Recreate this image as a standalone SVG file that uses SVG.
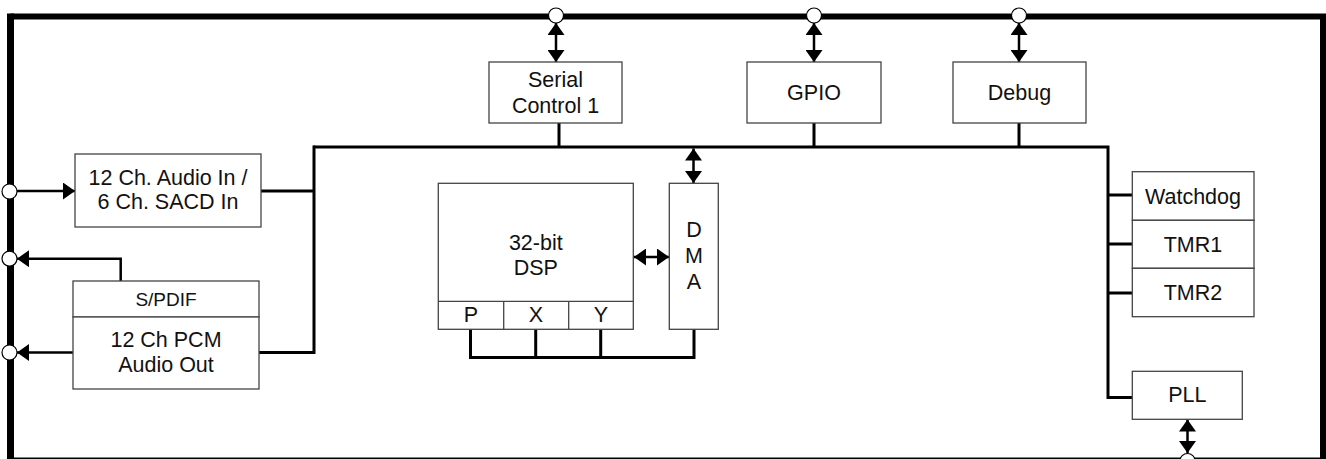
<svg xmlns="http://www.w3.org/2000/svg" width="1326" height="459" viewBox="0 0 1326 459">
<style>
.box{fill:#fff;stroke:#444;stroke-width:1.3}
.t{font-family:"Liberation Sans",Arial,sans-serif;font-size:21.5px;fill:#111;text-anchor:middle}
.ts{font-family:"Liberation Sans",Arial,sans-serif;font-size:19px;fill:#111;text-anchor:middle}
.bus{fill:none;stroke:#000;stroke-width:3}
.ar{fill:none;stroke:#000;stroke-width:2.5}
.pin{fill:#fff;stroke:#000;stroke-width:1.2}
</style>
<defs>
<marker id="ah" markerUnits="userSpaceOnUse" markerWidth="13" markerHeight="17" refX="12" refY="8.5" orient="auto-start-reverse">
<path d="M0,0 L12,8.5 L0,17 z" fill="#000"/>
</marker>
</defs>
<rect width="1326" height="459" fill="#fff"/>
<g id="frame">
<path d="M1323,459 V16.5 H10.5" fill="none" stroke="#000" stroke-width="6"/>
<path d="M10.5,13.5 V459" fill="none" stroke="#000" stroke-width="7"/>
<path d="M10,458.3 H1323" stroke="#000" stroke-width="1.5"/>
</g>
<g id="connectors">
<path class="bus" d="M313.5,147 H1108 V397.5 H1132"/>
<path class="bus" d="M314,145.5 V352.5 H259"/>
<path class="bus" d="M261,191 H314"/>
<path class="bus" d="M559,123 V147 M814,123 V147 M1019,123 V147"/>
<path class="bus" d="M1108,195 H1132 M1108,244 H1132 M1108,293 H1132"/>
<path class="bus" d="M470.5,329 V357.5 H694 V329 M535.7,329 V357.5 M600.7,329 V357.5"/>
<path class="ar" d="M17,191 H75" marker-end="url(#ah)"/>
<path class="ar" d="M120.7,281 V258.7 H17" marker-end="url(#ah)"/>
<path class="ar" d="M73,352.5 H17" marker-end="url(#ah)"/>
<path class="ar" d="M556,23 V62" marker-start="url(#ah)" marker-end="url(#ah)"/>
<path class="ar" d="M814,23 V62" marker-start="url(#ah)" marker-end="url(#ah)"/>
<path class="ar" d="M1019,23 V62" marker-start="url(#ah)" marker-end="url(#ah)"/>
<path class="ar" d="M693.5,148.5 V183" marker-start="url(#ah)" marker-end="url(#ah)"/>
<path class="ar" d="M634,257 H669" marker-start="url(#ah)" marker-end="url(#ah)"/>
<path class="ar" d="M1187.5,419.5 V453" marker-start="url(#ah)" marker-end="url(#ah)"/>
</g>
<g id="pins">
<circle class="pin" cx="556" cy="15.5" r="7.5"/>
<circle class="pin" cx="814" cy="15.5" r="7.5"/>
<circle class="pin" cx="1019" cy="15.5" r="7.5"/>
<circle class="pin" cx="9.5" cy="191.5" r="7.5"/>
<circle class="pin" cx="9.5" cy="258.7" r="7.5"/>
<circle class="pin" cx="9.5" cy="352.5" r="7.5"/>
<circle class="pin" cx="1187.5" cy="461" r="7.5"/>
</g>
<g id="serial">
<rect class="box" x="489" y="62" width="133" height="61"/>
<text class="t" x="555.5" y="87.3">Serial</text>
<text class="t" x="555.5" y="113">Control 1</text>
</g>
<g id="gpio">
<rect class="box" x="747" y="62" width="134" height="61"/>
<text class="t" x="814" y="100">GPIO</text>
</g>
<g id="debug">
<rect class="box" x="953" y="62" width="133" height="61"/>
<text class="t" x="1019.5" y="100">Debug</text>
</g>
<g id="audioin">
<rect class="box" x="75" y="154" width="186" height="73"/>
<text class="t" x="168" y="185">12 Ch. Audio In /</text>
<text class="t" x="168" y="209.3">6 Ch. SACD In</text>
</g>
<g id="spdif">
<rect class="box" x="73" y="281" width="186" height="36"/>
<text class="ts" x="166" y="305.5">S/PDIF</text>
</g>
<g id="pcmout">
<rect class="box" x="73" y="317" width="186" height="72"/>
<text class="t" x="166" y="346.7">12 Ch PCM</text>
<text class="t" x="166" y="372.3">Audio Out</text>
</g>
<g id="dsp">
<rect class="box" x="438.3" y="183.3" width="195" height="146"/>
<path class="box" d="M438.3,301.3 H633.3 M503.7,301.3 V329.3 M568.7,301.3 V329.3"/>
<text class="t" x="535.8" y="250">32-bit</text>
<text class="t" x="535.8" y="275">DSP</text>
<text class="t" x="471" y="321.7">P</text>
<text class="t" x="536" y="321.7">X</text>
<text class="t" x="601" y="321.7">Y</text>
</g>
<g id="dma">
<rect class="box" x="669.3" y="183.3" width="49" height="146"/>
<text class="t" x="694" y="236.7">D</text>
<text class="t" x="694" y="262.7">M</text>
<text class="t" x="694" y="289">A</text>
</g>
<g id="watchdog">
<rect class="box" x="1132.3" y="171.7" width="121.7" height="48.6"/>
<text class="t" x="1193" y="204">Watchdog</text>
</g>
<g id="tmr1">
<rect class="box" x="1132.3" y="220.3" width="121.7" height="48"/>
<text class="t" x="1193" y="251.7">TMR1</text>
</g>
<g id="tmr2">
<rect class="box" x="1132.3" y="268.3" width="121.7" height="48.4"/>
<text class="t" x="1193" y="300">TMR2</text>
</g>
<g id="pll">
<rect class="box" x="1132.3" y="371.3" width="110" height="48"/>
<text class="t" x="1187.3" y="402.3">PLL</text>
</g>
</svg>
